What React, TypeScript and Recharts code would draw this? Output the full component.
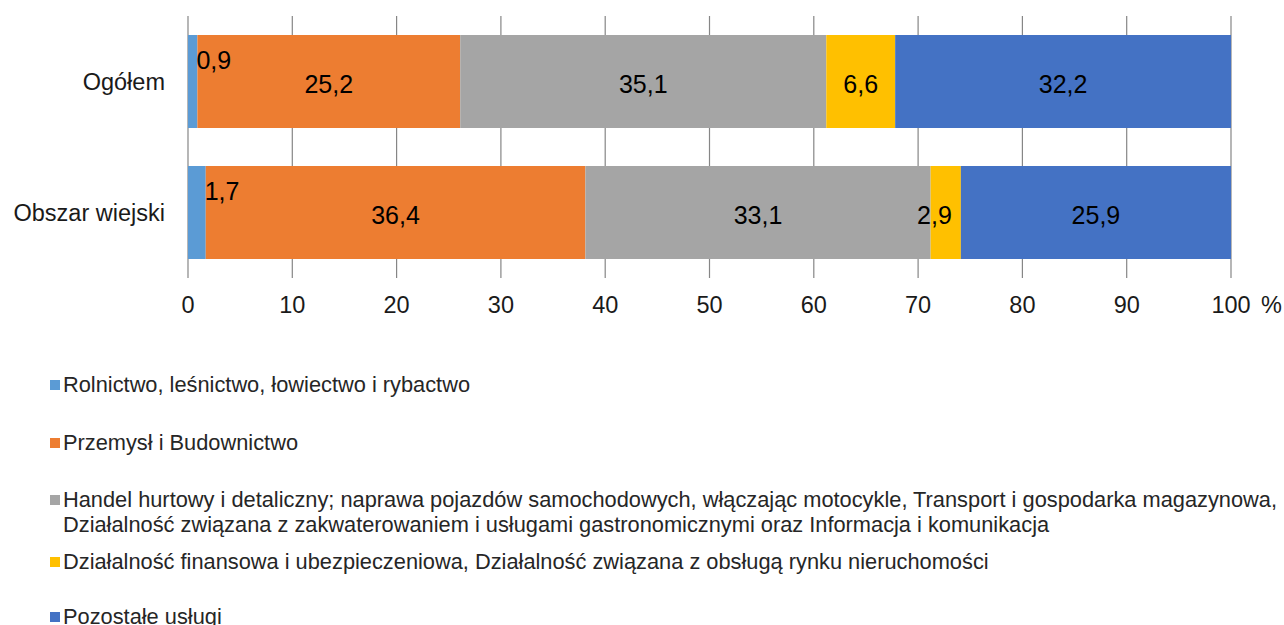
import React from "react"
import { BarChart, Bar, XAxis, YAxis, CartesianGrid, LabelList } from "recharts"

const categories = ["Ogółem", "Obszar wiejski"]
const seriesNames = [
  "Rolnictwo, leśnictwo, łowiectwo i rybactwo",
  "Przemysł i Budownictwo",
  "Handel hurtowy i detaliczny; naprawa pojazdów samochodowych, włączając motocykle, Transport i gospodarka magazynowa,\nDziałalność związana z zakwaterowaniem i usługami gastronomicznymi oraz Informacja i komunikacja",
  "Działalność finansowa i ubezpieczeniowa, Działalność związana z obsługą rynku nieruchomości",
  "Pozostałe usługi",
]
const rolnictwo = [0.9, 1.7]
const przemysl = [25.2, 36.4]
const handel = [35.1, 33.1]
const finanse = [6.6, 2.9]
const pozostale = [32.2, 25.9]
const xTicks = [0, 10, 20, 30, 40, 50, 60, 70, 80, 90, 100]

const colors = ["#5B9BD5", "#ED7D31", "#A5A5A5", "#FFC000", "#4472C4"]
const keys = ["s0", "s1", "s2", "s3", "s4"]
const legendGaps = [33, 32, 12, 30, 0]

const data = categories.map((name, i) => ({
  name,
  s0: rolnictwo[i],
  s1: przemysl[i],
  s2: handel[i],
  s3: finanse[i],
  s4: pozostale[i],
}))

const FONT = "'Liberation Sans', Arial, sans-serif"
const fmt = (v: number) => v.toFixed(1).replace(".", ",")

const SegmentLabel = (props: any) => {
  const { x, y, width, height, value, outside } = props
  const text = fmt(Number(value))
  const textW = text.length * 12.5
  if (outside) {
    return (
      <text x={x + width - 1} y={y + 25} textAnchor="start" dominantBaseline="central"
        fontSize={25} fontFamily={FONT} fill="#000">{text}</text>
    )
  }
  let cx = x + width / 2
  let anchor: "middle" | "end" = "middle"
  if (width < textW) {
    cx = x + width - 9
    anchor = "end"
  }
  return (
    <text x={cx} y={y + height / 2 + 2} textAnchor={anchor} dominantBaseline="central"
      fontSize={25} fontFamily={FONT} fill="#000">{text}</text>
  )
}

const XTick = (props: any) => {
  const { x, y, payload } = props
  return (
    <g>
      <text x={x} y={y + 19} textAnchor="middle" dominantBaseline="central"
        fontSize={23.5} fontFamily={FONT} fill="#1a1a1a">{payload.value}</text>
      {payload.value === 100 && (
        <text x={x + 30} y={y + 19} textAnchor="start" dominantBaseline="central"
          fontSize={23.5} fontFamily={FONT} fill="#1a1a1a">%</text>
      )}
    </g>
  )
}

export default function App() {
  return (
    <div style={{ position: "absolute", left: 0, top: 0, width: 1284, height: 625, background: "#fff", fontFamily: FONT, overflow: "hidden" }}>
      <BarChart
        layout="vertical"
        width={1284}
        height={330}
        data={data}
        margin={{ top: 16, right: 53, bottom: 0, left: 0 }}
      >
        <CartesianGrid horizontal={false} vertical stroke="#868686" strokeWidth={1.2} />
        <XAxis
          type="number"
          domain={[0, 100]}
          ticks={xTicks}
          axisLine={false}
          tickLine={false}
          height={52}
          interval={0}
          tick={<XTick />}
        />
        <YAxis
          type="category"
          dataKey="name"
          width={188}
          axisLine={false}
          tickLine={false}
          tickMargin={17}
          tick={{ fontSize: 23.5, fontFamily: FONT, fill: "#1a1a1a" }}
        />
        {keys.map((k, i) => (
          <Bar key={k} dataKey={k} stackId="a" fill={colors[i]} barSize={93} isAnimationActive={false}>
            <LabelList dataKey={k} content={<SegmentLabel outside={i === 0} />} />
          </Bar>
        ))}
      </BarChart>
      <div style={{ position: "absolute", left: 50, top: 372, fontSize: 21.8, color: "#262626" }}>
        {seriesNames.map((n, i) => (
          <div key={n} style={{ display: "flex", alignItems: "flex-start", marginBottom: legendGaps[i], lineHeight: "25px" }}>
            <span style={{ width: 10, height: 10, background: colors[i], marginTop: 8, marginRight: 3, flexShrink: 0 }} />
            <span style={{ whiteSpace: "pre-line" }}>{n}</span>
          </div>
        ))}
      </div>
    </div>
  )
}
